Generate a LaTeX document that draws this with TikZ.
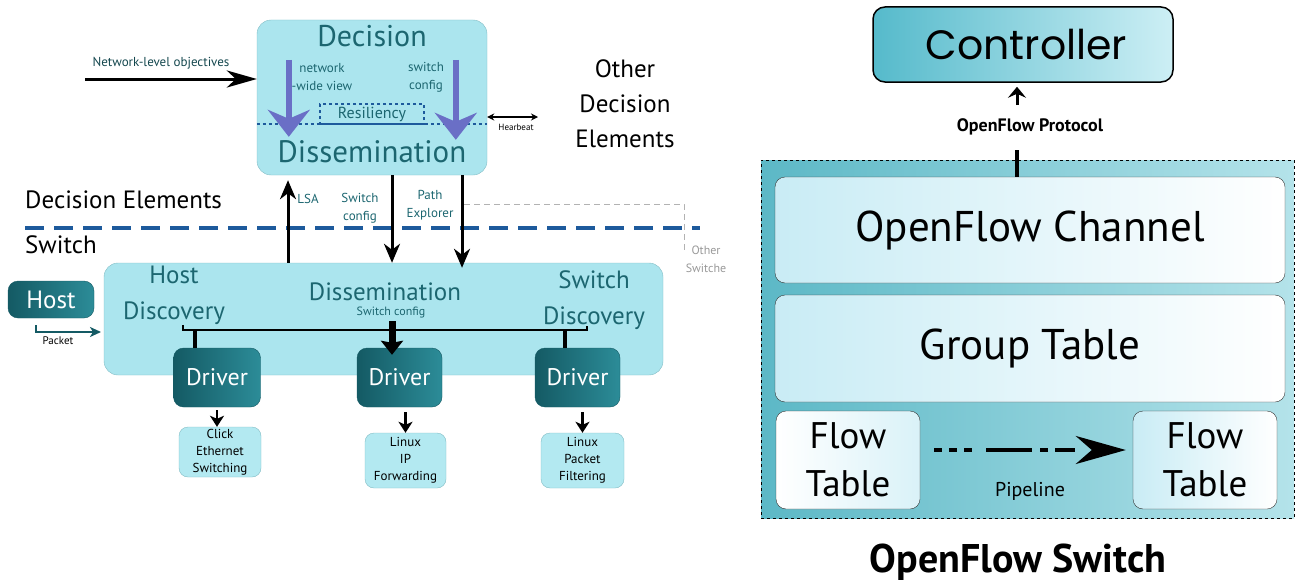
\documentclass[tikz,border=0pt]{standalone}
\usepackage{fontspec}
\setmainfont{PT Sans}
\newfontfamily\geofont{Poppins}
\usetikzlibrary{arrows.meta,positioning,calc}
\definecolor{deepteal}{HTML}{1C6670}
\definecolor{panelfill}{HTML}{ABE5EE}
\definecolor{panelrim}{HTML}{82BCC4}
\definecolor{leaffill}{HTML}{B3E9F1}
\definecolor{darkA}{HTML}{145A64}
\definecolor{darkB}{HTML}{2C8C98}
\definecolor{sepblue}{HTML}{1D5A9C}
\definecolor{violet}{HTML}{6A6FC6}
\definecolor{ctrlA}{HTML}{55BACB}
\definecolor{ctrlB}{HTML}{CDEFF5}
\definecolor{switchA}{HTML}{5CB8C6}
\definecolor{switchB}{HTML}{B4E3EA}
\definecolor{tableA}{HTML}{C9ECF5}

\tikzset{
  panel/.style={draw=panelrim, fill=panelfill, rounded corners=14pt, inner sep=0pt},
  darkbox/.style={draw=darkA, left color=darkA, right color=darkB, rounded corners=10pt,
                  inner sep=0pt, text=white, font=\fontsize{24}{28}\selectfont},
  leafbox/.style={draw=panelrim, fill=leaffill, rounded corners=9pt, inner sep=0pt,
                  align=center, font=\fontsize{13}{17}\selectfont},
  tbl/.style={draw=black!80, left color=tableA, right color=white, rounded corners=10pt,
              inner sep=0pt, align=center},
  teal/.style={text=deepteal, inner sep=0pt, align=center},
  barrow/.style={-{Stealth[length=19pt,width=16pt,inset=6pt]}, line width=3pt},
  longarrow/.style={-{Stealth[length=30pt,width=17pt,inset=9pt]}, line width=3pt},
  smallarrow/.style={-{Stealth[length=11pt,width=14pt,inset=3pt]}, line width=2.5pt},
  parrow/.style={-{Stealth[length=27pt,width=42pt,inset=9pt]}, line width=6pt, violet},
  bus/.style={line width=2.2pt}
}

\begin{document}
\begin{tikzpicture}[x=1pt,y=-1pt]
\useasboundingbox (0,0) rectangle (1298,586);

% ---- decision element ----
\node[panel, minimum width=230pt, minimum height=155pt] (dec) at (372,97.5) {};
\node[teal, font=\fontsize{30}{34}\selectfont] (decT) at (372,36) {Decision};
\node[teal, font=\fontsize{31}{34}\selectfont] (disT) at (372,152) {Dissemination};
\coordinate (sepY) at (0,124);
\draw[sepblue, dashed, line width=1.2pt] (dec.west |- sepY) -- (dec.east |- sepY);
\node[teal, draw=sepblue, dashed, line width=1.2pt, minimum width=104pt,
      minimum height=20pt, font=\fontsize{16}{18}\selectfont] (resil) at (372,114) {Resiliency};
\draw[parrow] ($(dec.north west)+(32,40)$) -- ++(0,77);
\draw[parrow] ($(dec.north west)+(199,40)$) -- ++(0,80);
\node[teal, font=\fontsize{13}{18}\selectfont] (nwv) at (322,77) {network\\-wide view};
\node[teal, font=\fontsize{13}{18}\selectfont] (scfg) at (426,77) {switch\\config};

% objectives and heartbeat
\node[text=deepteal!70!black, font=\fontsize{13}{15}\selectfont] (obj) at (161,63) {Network-level objectives};
\coordinate (objsrc) at (85,79);
\draw[longarrow] (objsrc) -- (objsrc -| dec.west);
\coordinate (hbR) at (538,117);
\draw[{Stealth[length=7pt,width=7pt]}-{Stealth[length=7pt,width=7pt]}, line width=1.2pt]
  (hbR -| dec.east) -- (hbR);
\node[font=\fontsize{9}{10}\selectfont] (hb) at (516,127) {Hearbeat};
\node[align=center, font=\fontsize{25}{35}\selectfont] (others) at (625,104)
  {Other\\Decision\\Elements};

% ---- tier boundary ----
\node[anchor=west, inner sep=0pt, font=\fontsize{25}{28}\selectfont] (tierDE) at (25,200) {Decision Elements};
\node[anchor=west, inner sep=0pt, font=\fontsize{25}{28}\selectfont] (tierSW) at (25,245) {Switch};
\draw[sepblue, line width=4pt, dash pattern=on 19pt off 10pt] (25,228) -- (700,228);
\draw[black!30, line width=1pt, dash pattern=on 6pt off 4pt] (464,204) -- (684,204) -- (684,252);
\node[text=black!40, align=center, font=\fontsize{12}{18}\selectfont] (osw) at (706,259) {Other\\Switche};

% ---- switch ----
\node[panel, minimum width=559pt, minimum height=112pt] (sw) at (383.5,319) {};
\coordinate (xLSA) at (288,0);
\coordinate (xSC) at (392,0);
\coordinate (xPE) at (462,0);
\draw[barrow] (sw.north -| xLSA) -- ($(dec.south -| xLSA)+(0,5)$);
\draw[barrow] (dec.south -| xSC) -- (sw.north -| xSC);
\draw[barrow] (dec.south -| xPE) -- ($(sw.north -| xPE)+(0,5)$);
\node[teal, font=\fontsize{13}{18}\selectfont] (lsa) at (308,199) {LSA};
\node[teal, font=\fontsize{13}{18}\selectfont] (swcfg) at (360,208) {Switch\\config};
\node[teal, font=\fontsize{13}{18}\selectfont] (pexp) at (430,205) {Path\\Explorer};

\node[teal, font=\fontsize{25}{36}\selectfont] (hdisc) at (174,295) {Host\\Discovery};
\node[teal, font=\fontsize{25}{36}\selectfont] (sdisc) at (594,300) {Switch\\Discovery};
\node[teal, font=\fontsize{25}{28}\selectfont] (sdis) at (385,292) {Dissemination};
\node[teal, font=\fontsize{12}{14}\selectfont] (sdcfg) at (391,312) {Switch config};

% drivers
\node[darkbox, minimum width=87pt, minimum height=59pt] (drvA) at (217,377.5) {Driver};
\node[darkbox, minimum width=85pt, minimum height=59pt] (drvB) at (399.5,377.5) {Driver};
\node[darkbox, minimum width=85pt, minimum height=59pt] (drvC) at (577.5,377.5) {Driver};

\coordinate (busL) at (183,330);
\coordinate (busR) at (587,330);
\draw[bus] ($(busL)+(0,-5)$) -- (busL) -- (busR) -- ($(busR)+(0,-4)$);
\coordinate (stubA) at (195,330);
\coordinate (stubC) at (565,330);
\draw[bus, line width=3.5pt] (stubA) -- (stubA |- drvA.north);
\draw[bus, line width=3.5pt] (stubC) -- (stubC |- drvC.north);
\coordinate (cfgsrc) at (392,321);
\draw[-{Stealth[length=14pt,width=22pt,inset=2pt]}, line width=7pt]
  (cfgsrc) -- ($(cfgsrc |- drvB.north)+(0,7)$);

% platforms
\node[leafbox, minimum width=82pt, minimum height=50pt] (leafA) at (220,452) {Click\\Ethernet\\Switching};
\node[leafbox, minimum width=81pt, minimum height=55pt] (leafB) at (405.5,460.5) {Linux\\IP\\Forwarding};
\node[leafbox, minimum width=83pt, minimum height=55pt] (leafC) at (582.5,460.5) {Linux\\Packet\\Filtering};
\draw[smallarrow, shorten <=3pt] (drvA.south) -- (drvA.south |- leafA.north);
\draw[smallarrow, shorten <=5pt] (leafB.north |- drvB.south) -- (leafB.north);
\draw[smallarrow, shorten <=5pt] (leafC.north |- drvC.south) -- (leafC.north);

% host
\node[darkbox, font=\fontsize{25}{28}\selectfont, minimum width=86pt, minimum height=37pt] (host) at (51,299.5) {Host};
\coordinate (pkt) at (36,325);
\coordinate (pktEnd) at (101,332);
\draw[-{Stealth[length=11pt,width=10pt,inset=3pt]}, line width=1.8pt, color=darkA]
  (pkt) -- (pkt |- pktEnd) -- (pktEnd);
\node[font=\fontsize{11}{12}\selectfont] (pktT) at (58,341) {Packet};

% ---- openflow switch ----
\node[draw=black, line width=1.5pt, left color=ctrlA, right color=ctrlB, rounded corners=12pt,
      minimum width=300pt, minimum height=75pt, inner sep=0pt,
      font=\geofont\fontsize{41}{44}\selectfont] (ctrl) at (1023,44.5) {\,Controller};
\coordinate (protoFoot) at (1017,105);
\draw[-{Stealth[length=11pt,width=18pt,inset=4pt]}, line width=3pt, shorten >=4pt]
  (protoFoot) -- (protoFoot |- ctrl.south);
\node[font=\bfseries\fontsize{18}{20}\selectfont] (proto) at (1030,127) {OpenFlow Protocol};

\node[draw=black, dashed, line width=1pt, left color=switchA, right color=switchB,
      minimum width=533pt, minimum height=358pt, inner sep=0pt] (ofs) at (1027.5,339) {};
\node[tbl, minimum width=510pt, minimum height=106pt, font=\fontsize{43}{46}\selectfont]
  (chan) at (1030,230) {OpenFlow Channel};
\node[tbl, minimum width=510pt, minimum height=107pt, font=\fontsize{43}{46}\selectfont]
  (grp) at (1030,348.5) {Group Table};
\coordinate (chanTop) at (1017,150);
\draw[line width=3.5pt] (chanTop) -- (chanTop |- chan.north);

\node[tbl, minimum width=144pt, minimum height=98pt, font=\fontsize{37}{48}\selectfont,
      left color=white, right color=tableA!70] (ftA) at (848,460) {Flow\\Table};
\node[tbl, minimum width=144pt, minimum height=98pt, font=\fontsize{37}{48}\selectfont]
  (ftB) at (1205,460) {Flow\\Table};
\draw[-{Stealth[length=50pt,width=28pt,inset=16pt]}, line width=4pt,
      dash pattern=on 8pt off 7pt on 8pt off 7pt on 8pt off 14pt on 46pt off 8pt on 8pt off 7pt on 20pt off 90pt,
      shorten <=14pt, shorten >=7pt]
  ([yshift=10pt]ftA.east) -- ([yshift=10pt]ftB.west);
\node[font=\fontsize{20}{22}\selectfont] (pipe) at (1030,491) {Pipeline};
\node[font=\bfseries\fontsize{40}{44}\selectfont] (title) at (1018,562) {OpenFlow Switch};
\end{tikzpicture}
\end{document}
